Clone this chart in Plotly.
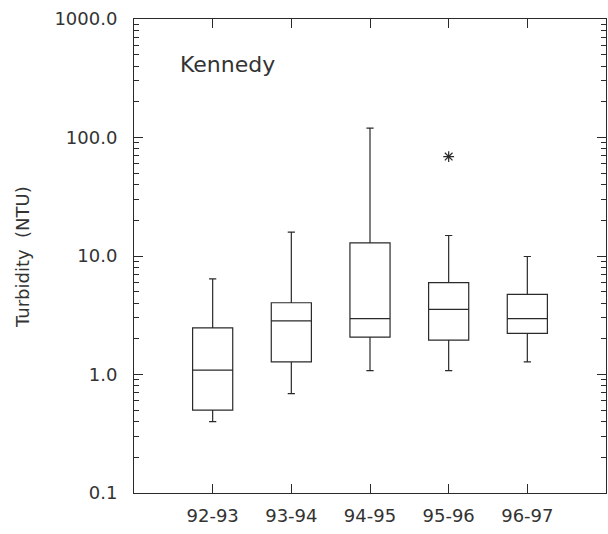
import plotly.graph_objects as go

categories = ["92-93", "93-94", "94-95", "95-96", "96-97"]
lower_whisker = [0.40, 0.69, 1.08, 1.08, 1.28]
q1 = [0.50, 1.28, 2.07, 1.95, 2.22]
median = [1.09, 2.83, 2.96, 3.55, 2.96]
q3 = [2.47, 4.03, 12.9, 5.95, 4.75]
upper_whisker = [6.4, 15.9, 120.0, 14.9, 9.9]
outlier_cat = [3]
outlier_val = [69.0]

ytick_vals = [0.1, 1, 10, 100, 1000]
ytick_text = ["0.1", "1.0", "10.0", "100.0", "1000.0"]
minor_vals = [m * 10 ** k for k in range(-1, 3) for m in range(2, 10)]

pos = list(range(len(categories)))
INK = "#2a2a2a"
FONT = "DejaVu Sans"

fig = go.Figure()
fig.add_trace(go.Box(
    x=pos, q1=q1, median=median, q3=q3,
    lowerfence=lower_whisker, upperfence=upper_whisker,
    width=0.51, whiskerwidth=0.18,
    fillcolor="white", line=dict(color=INK, width=1.2),
    boxpoints=False, showlegend=False, hoverinfo="skip",
))
fig.add_trace(go.Scatter(
    x=outlier_cat, y=outlier_val, mode="markers",
    marker=dict(symbol="asterisk-open", size=9, color=INK, line=dict(color=INK, width=1.2)),
    showlegend=False,
))

fig.update_layout(
    width=608, height=534,
    margin=dict(l=134, r=2, t=19, b=41),
    paper_bgcolor="white", plot_bgcolor="white",
    font=dict(family=FONT, color="#333333", size=18),
    showlegend=False,
)
fig.update_xaxes(
    range=[-1, 5], tickvals=pos, ticktext=categories,
    showline=True, linecolor=INK, linewidth=1, mirror="ticks",
    ticks="inside", ticklen=9, tickcolor=INK, tickwidth=1,
    showgrid=False, zeroline=False, ticklabelstandoff=6,
    tickfont=dict(size=18, family=FONT, color="#333333"),
)
fig.update_yaxes(
    type="log", range=[-1, 3], tickvals=ytick_vals, ticktext=ytick_text,
    showline=True, linecolor=INK, linewidth=1, mirror="ticks",
    ticks="inside", ticklen=9, tickcolor=INK, tickwidth=1,
    minor=dict(tickvals=minor_vals, ticks="inside", ticklen=5, tickcolor=INK, tickwidth=1, showgrid=False),
    showgrid=False, zeroline=False, ticklabelstandoff=12,
    tickfont=dict(size=18, family=FONT, color="#333333"),
)
fig.add_annotation(
    text="Kennedy", xref="paper", yref="paper", x=(178 - 134) / 472, y=1 - (64 - 19) / 474,
    xanchor="left", yanchor="middle", showarrow=False,
    font=dict(size=22, family=FONT, color="#333333"),
)
fig.add_annotation(
    text="Turbidity  (NTU)", xref="paper", yref="paper", x=-(134 - 22) / 472, y=1 - (257 - 19) / 474,
    xanchor="center", yanchor="middle", textangle=-90, showarrow=False,
    font=dict(size=18, family=FONT, color="#333333"),
)
fig.write_html("out.html")
